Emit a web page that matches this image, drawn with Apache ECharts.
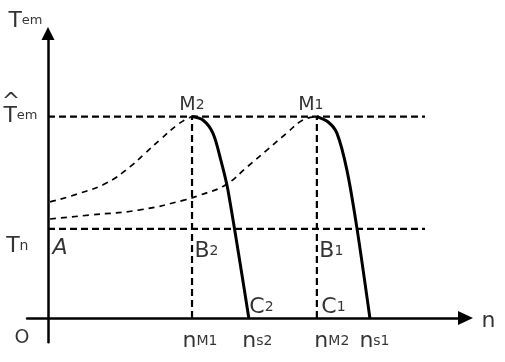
<!DOCTYPE html>
<html><head><meta charset="utf-8">
<script src="https://cdn.jsdelivr.net/npm/echarts@6/dist/echarts.min.js"></script>
<style>html,body{margin:0;padding:0;background:#fff}#c{width:505px;height:362px}</style>
</head><body><div id="c"></div>
<script>
// Key speeds on the n axis and key torques on the T axis (arbitrary units)
const speedNames = ['nM1', 'ns2', 'nM2', 'ns1'];
const speedValues = [34.5, 48.1, 64.4, 77.1];
const torqueNames = ['Tn', 'Tmax'];
const torqueValues = [31.3, 70.8];
const refLineEnd = 90.3;
const axisMax = [100, 100];

// Torque-speed characteristic 2 (peak M2) and 1 (peak M1)
const curve2Rise = [[0.5,40.8],[7.7,43.9],[14.1,47.5],[19.6,53.1],[22.8,57.3],[26.8,62.6],[30.9,67.8],[32.8,69.6],[34.5,70.8]];
const curve2Fall = [[34.5,70.8],[37.1,69.6],[39.5,65.0],[41.4,55.5],[43.1,45.0],[48.1,0]];
const curve1Rise = [[0.5,34.8],[10.1,36.2],[22.0,38.0],[32.8,41.5],[36.4,43.2],[42.4,46.7],[47.7,53.1],[52.5,59.1],[57.2,65.0],[61.1,69.6],[64.4,70.8]];
const curve1Fall = [[64.4,70.8],[67.1,68.9],[69.2,65.0],[71.6,52.0],[74.0,31.6],[77.1,0]];

const [nM1, ns2, nM2, ns1] = speedValues;
const [Tn, Tmax] = torqueValues;

const FONT = 'DejaVu Sans';
const rich = {
  m: {fontSize: 22, fontFamily: FONT, color: '#000'},
  b: {fontSize: 19, fontFamily: FONT, color: '#000'},
  s: {fontSize: 14, fontFamily: FONT, color: '#000'},
  ss: {fontSize: 13, fontFamily: FONT, color: '#000'},
  it: {fontSize: 22, fontFamily: FONT, color: '#000', fontStyle: 'italic'}
};

// text, anchor, [dx, dy], align
const labels = [
  ['{m|T}{ss|em}', [0, axisMax[1]], [-5, -1], 'right'],
  ['{m|^}', [0, Tmax], [-36.5, -3], 'center'],
  ['{m|T}{ss|em}', [0, Tmax], [-10, 11], 'right'],
  ['{m|T}{s|n}', [0, Tn], [-19, 29], 'right'],
  ['{it|A}', [0, Tn], [5, 31], 'left'],
  ['{b|O}', [0, 0], [-18, 30.5], 'right'],
  ['{b|M}{s|2}', [nM1, Tmax], [0.5, -1.5], 'center'],
  ['{b|M}{s|1}', [nM2, Tmax], [-5.5, -1.5], 'center'],
  ['{m|B}{s|2}', [nM1, Tn], [3, 34], 'left'],
  ['{m|B}{s|1}', [nM2, Tn], [3, 34], 'left'],
  ['{m|C}{s|2}', [ns2, 0], [1, 0.5], 'left'],
  ['{m|C}{s|1}', [nM2, 0], [5, 0.5], 'left'],
  ['{m|n}{s|M1}', [nM1, 0], [-9, 34.5], 'left'],
  ['{m|n}{s|s2}', [ns2, 0], [-6, 34.5], 'left'],
  ['{m|n}{s|M2}', [nM2, 0], [-2, 34.5], 'left'],
  ['{m|n}{s|s1}', [ns1, 0], [-10, 34.5], 'left'],
  ['{m|n}', [axisMax[0], 0], [16.5, 14.5], 'left']
];

const dashRef = {color: '#000', width: 2.2, type: [7, 4]};
const dashCurve = {color: '#000', width: 1.7, type: [6, 5]};
const solidCurve = {color: '#000', width: 3};

function seg(data, style, smooth) {
  return {type: 'line', data: data, symbol: 'none', smooth: smooth || 0, lineStyle: style, silent: true, animation: false, z: 3};
}

const chart = echarts.init(document.getElementById('c'), null, {renderer: 'canvas'});
chart.setOption({
  animation: false,
  backgroundColor: '#fff',
  textStyle: {fontFamily: FONT},
  grid: {left: 27.1, right: 39.5, top: 33.5, bottom: 19.8},
  xAxis: {
    type: 'value', min: -5, max: axisMax[0],
    axisLine: {onZero: true, lineStyle: {color: '#000', width: 2.5}, symbol: ['none', 'triangle'], symbolSize: [14, 15]},
    axisTick: {show: false}, axisLabel: {show: false}, splitLine: {show: false}
  },
  yAxis: {
    type: 'value', min: -8.5, max: axisMax[1],
    axisLine: {show: true, onZero: true, lineStyle: {color: '#000', width: 2.5}, symbol: ['none', 'triangle'], symbolSize: [13, 13]},
    axisTick: {show: false}, axisLabel: {show: false}, splitLine: {show: false}
  },
  series: [
    seg([[0, Tmax], [refLineEnd, Tmax]], dashRef),
    seg([[0, Tn], [refLineEnd, Tn]], dashRef),
    seg([[nM1, 0], [nM1, Tmax]], dashRef),
    seg([[nM2, 0], [nM2, Tmax]], dashRef),
    seg(curve2Rise, dashCurve, 0.5),
    seg(curve1Rise, dashCurve, 0.5),
    seg(curve2Fall, solidCurve, 0.3),
    seg(curve1Fall, solidCurve, 0.3),
    {
      type: 'scatter', symbolSize: 1, itemStyle: {color: 'rgba(0,0,0,0)'}, silent: true, clip: false, z: 5,
      label: {show: true, color: '#000', fontSize: 22, fontFamily: FONT, verticalAlign: 'bottom', rich: rich},
      data: labels.map(l => ({
        value: l[1],
        label: {formatter: l[0], position: l[2], align: l[3]}
      }))
    }
  ]
});
</script></body></html>
